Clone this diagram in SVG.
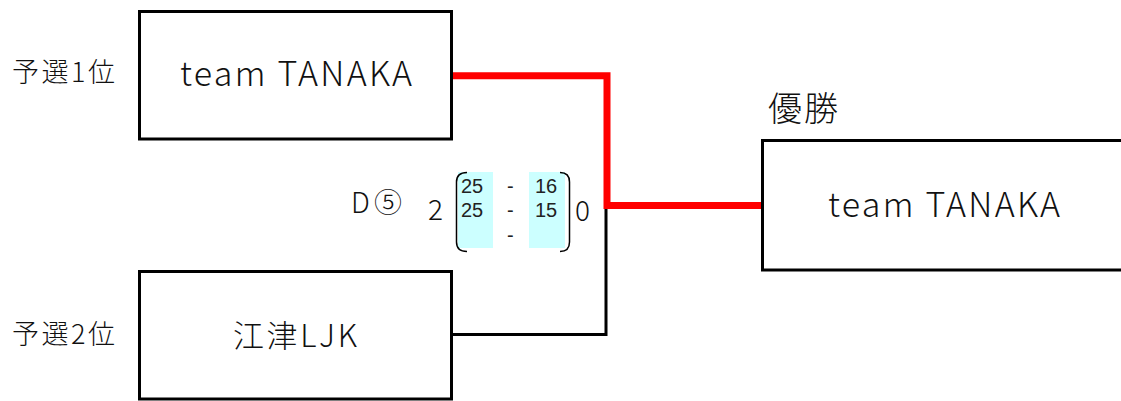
<svg xmlns="http://www.w3.org/2000/svg" width="1121" height="401" viewBox="0 0 1121 401">
<style>
.box{fill:#fff;stroke:#000;stroke-width:3}
.t{font-family:"Noto Sans CJK JP","Noto Sans",sans-serif;fill:#111;font-weight:300}
.s{font-family:"Liberation Sans",Arial,sans-serif;fill:#222;font-size:20px}
.cy{fill:#ccffff}
.br{fill:none;stroke:#000;stroke-width:1.5}
</style>
<rect width="1121" height="401" fill="#fff"/>
<g id="connectors" fill="none" stroke-linejoin="miter">
<polyline points="452,334.5 606,334.5 606,205" stroke="#000" stroke-width="3"/>
<polyline points="452,75.8 607,75.8 607,205.5 762,205.5" stroke="#ff0000" stroke-width="7"/>
</g>
<g id="node-seed1">
<rect class="box" x="139.5" y="11.5" width="312" height="127.5"/>
<text class="t" x="180" y="86" font-size="34" textLength="232" lengthAdjust="spacing">team TANAKA</text>
</g>
<g id="label-seed1">
<text class="t" x="12" y="82" font-size="27" textLength="103" lengthAdjust="spacing">予選1位</text>
</g>
<g id="node-seed2">
<rect class="box" x="139.5" y="271.5" width="312" height="127.5"/>
<text class="t" x="233" y="347" font-size="31" textLength="124" lengthAdjust="spacing">江津LJK</text>
</g>
<g id="label-seed2">
<text class="t" x="12" y="343.5" font-size="27" textLength="103" lengthAdjust="spacing">予選2位</text>
</g>
<g id="node-winner">
<rect class="box" x="762.5" y="140.5" width="420" height="129.5"/>
<text class="t" x="828" y="217" font-size="34" textLength="232" lengthAdjust="spacing">team TANAKA</text>
</g>
<g id="label-winner">
<text class="t" x="768" y="121" font-size="34" textLength="70" lengthAdjust="spacing">優勝</text>
</g>
<g id="score">
<text class="t" x="351" y="213" font-size="28" textLength="51" lengthAdjust="spacing">D⑤</text>
<text class="t" x="428" y="220" font-size="28">2</text>
<rect class="cy" x="458" y="172" width="35" height="76"/>
<rect class="cy" x="529" y="172" width="36" height="76"/>
<path class="br" d="M467,172.5 Q456.5,172.5 456.5,182 L456.5,242 Q456.5,251.5 467,251.5"/>
<path class="br" d="M560,172.5 Q569.5,172.5 569.5,182 L569.5,242 Q569.5,251.5 560,251.5"/>
<text class="s" x="461" y="193">25</text>
<text class="s" x="461" y="217">25</text>
<text class="s" x="507" y="193">-</text>
<text class="s" x="507" y="217">-</text>
<text class="s" x="507" y="242">-</text>
<text class="s" x="535" y="193">16</text>
<text class="s" x="535" y="217">15</text>
<text class="t" x="575" y="221" font-size="28">0</text>
</g>
</svg>
